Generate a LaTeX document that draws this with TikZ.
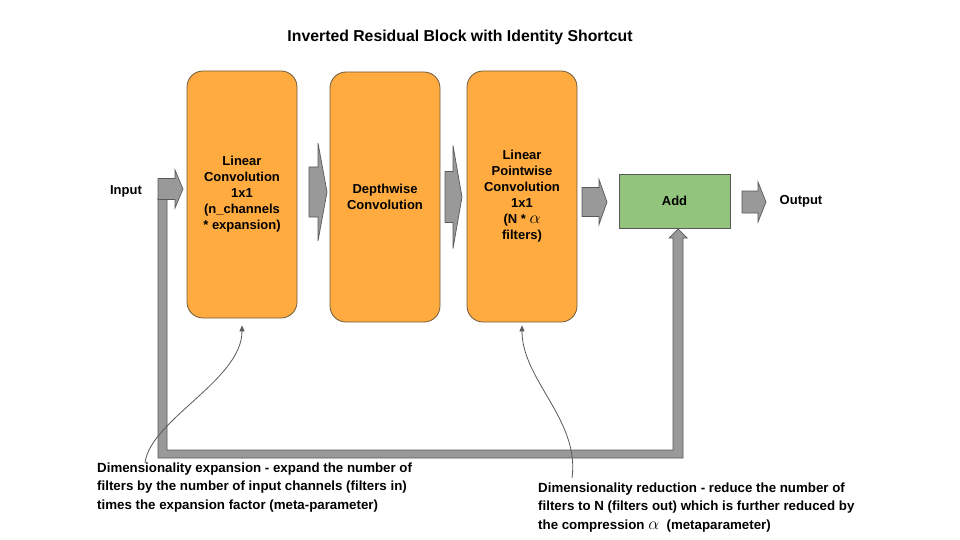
\documentclass[tikz,border=0pt]{standalone}
\usepackage{fontspec}
\setmainfont{Liberation Sans}
\usetikzlibrary{arrows.meta}
\definecolor{orangefill}{HTML}{FFAB40}
\definecolor{greenfill}{HTML}{93C47D}
\definecolor{arrowgray}{HTML}{999999}
\definecolor{edgegray}{HTML}{595959}
\definecolor{boxedge}{HTML}{6E5A3C}
\newcommand{\rblockarrow}[6]{%
  \filldraw[blockarrow] (#1,#4-#5) -- (#2,#4-#5) -- (#2,#4-#6) -- (#3,#4) -- (#2,#4+#6) -- (#2,#4+#5) -- (#1,#4+#5) -- cycle;}
\newcommand{\bigalpha}{{\fontsize{16}{16}\selectfont$\alpha$}}
\begin{document}
\begin{tikzpicture}[x=1pt,y=-1pt,
  convbox/.style={draw=boxedge, fill=orangefill, rounded corners=16pt, minimum width=110pt,
    inner sep=0pt, line width=0.8pt, align=center, font=\bfseries\fontsize{13}{16}\selectfont},
  addbox/.style={draw=edgegray, fill=greenfill, minimum width=111pt, minimum height=54pt,
    inner sep=0pt, line width=0.8pt, font=\bfseries\fontsize{13}{16}\selectfont},
  blockarrow/.style={fill=arrowgray, draw=edgegray, line width=0.7pt, line join=miter},
  callout/.style={draw=edgegray, line width=0.8pt, -{Triangle[length=6pt,width=5pt]}},
  lbl/.style={font=\bfseries\fontsize{13}{16}\selectfont, inner sep=0pt},
  note/.style={font=\bfseries\fontsize{13.3}{18.5}\selectfont, align=left, anchor=north west, inner sep=0pt},
  titlestyle/.style={font=\bfseries\fontsize{15.8}{18}\selectfont, inner sep=0pt}
]
\useasboundingbox (0,0) rectangle (960,540);

% title
\node[titlestyle] (title) at (460,37) {Inverted Residual Block with Identity Shortcut};

% shortcut path with up arrow into Add
\filldraw[blockarrow] (158,198) -- (158,458) -- (683,458) -- (683,238) -- (687,238) -- (678,229)
  -- (669,238) -- (673,238) -- (673,450) -- (167,450) -- (167,198) -- cycle;

% boxes
\node[convbox, minimum height=247pt] (conv1) at (242,194.5)
  {Linear\\Convolution\\1x1\\(n\_channels\\* expansion)};
\node[convbox, minimum height=250pt] (conv2) at (385,197)
  {Depthwise\\Convolution};
\node[convbox, minimum height=251pt] (conv3) at (522,196.5)
  {Linear\\Pointwise\\Convolution\\1x1\\(N * \bigalpha\\filters)};
\node[addbox] (add) at (674.5,201) {Add};

% block arrows
\rblockarrow{158}{175}{183}{189}{10.5}{19}
\rblockarrow{309}{318}{327}{192}{25}{49}
\rblockarrow{445}{453}{462}{197}{25.5}{51.5}
\rblockarrow{582}{599}{607}{202}{14.5}{22.5}
\rblockarrow{742}{758}{766}{202}{11}{20}

% labels
\node[lbl] (input) at (126,191) {Input};
\node[lbl] (output) at (801,201) {Output};

% notes
\node[note] (noteL) at (97,462.4) {Dimensionality expansion - expand the number of\\filters by the number of input channels (filters in)\\times the expansion factor (meta-parameter)};
\node[note] (noteR) at (538,482.4) {Dimensionality reduction - reduce the number of\\filters to N (filters out) which is further reduced by\\the compression \bigalpha\ \ (metaparameter)};

% callouts
\coordinate (cL) at (145,463);
\coordinate (cR) at (572,478);
\draw[callout, shorten >=7pt] (cL) .. controls (150,420) and (242,380) .. (conv1.south);
\draw[callout, shorten >=3pt] (cR) .. controls (580,420) and (522,380) .. (conv3.south);
\end{tikzpicture}
\end{document}
